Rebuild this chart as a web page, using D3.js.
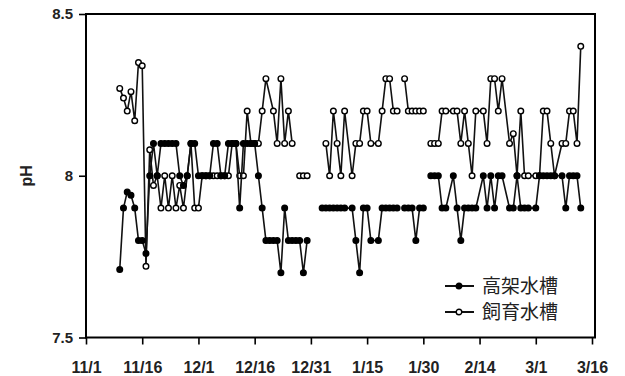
<!DOCTYPE html>
<html>
<head>
<meta charset="utf-8">
<script src="https://cdn.jsdelivr.net/npm/d3@7"></script>
<style>
  body { margin: 0; background: #fff; }
  svg { display: block; font-family: "Liberation Sans", Arial, sans-serif; }
</style>
</head>
<body>
<svg id="chart" width="625" height="376"></svg>
<script>
// x tick labels (every 15 days)
const tickLabels = ["11/1", "11/16", "12/1", "12/16", "12/31", "1/15", "1/30", "2/14", "3/1", "3/16"];
const yTicks = [7.5, 8, 8.5];

// 高架水槽 (filled markers) -- null breaks the line
const tankDates = ["11/10","11/11","11/12","11/13","11/14","11/15","11/16","11/17","11/18","11/19",
  "11/20","11/21","11/22","11/23","11/24","11/25","11/26","11/27","11/28","11/29","11/30",
  "12/1","12/2","12/3","12/4","12/5","12/6","12/7","12/8","12/9","12/10","12/11","12/12","12/13",
  "12/14","12/15","12/16","12/17","12/18","12/19","12/20","12/21","12/22","12/23","12/24","12/25",
  "12/26","12/27","12/28","12/29","12/30","12/31",
  "1/3","1/4","1/5","1/6","1/7","1/8","1/9","1/11","1/12","1/13","1/14","1/15","1/16","1/18",
  "1/19","1/20","1/21","1/22","1/23","1/24","1/25","1/26","1/27","1/28","1/29","1/30","1/31",
  "2/1","2/2","2/3","2/4","2/5","2/7","2/8","2/9","2/10","2/11","2/12","2/13","2/15","2/16",
  "2/17","2/18","2/19","2/20","2/22","2/23","2/24","2/25","2/26","2/27",
  "3/1","3/2","3/3","3/4","3/5","3/6","3/8","3/9","3/10","3/11","3/12","3/13"];
const tankValues = [7.71,7.90,7.95,7.94,7.90,7.80,7.80,7.76,8.00,8.10,
  8.00,8.10,8.10,8.10,8.10,8.10,8.00,7.97,8.00,8.10,8.10,
  8.00,8.00,8.00,8.00,8.10,8.10,8.00,8.00,8.10,8.10,8.10,7.90,8.10,
  8.10,8.10,8.10,8.00,7.90,7.80,7.80,7.80,7.80,7.70,7.90,7.80,
  7.80,7.80,7.80,7.70,7.80,null,
  7.90,7.90,7.90,7.90,7.90,7.90,7.90,7.90,7.80,7.70,7.90,7.90,7.80,7.80,
  7.90,7.90,7.90,7.90,7.90,null,7.90,7.90,7.90,7.80,7.90,7.90,null,
  8.00,8.00,8.00,7.90,7.90,8.00,7.90,7.80,7.90,7.90,7.90,7.90,8.00,7.90,
  8.00,7.90,8.00,8.00,7.90,7.90,8.00,7.90,7.90,7.90,
  7.90,8.00,8.00,8.00,8.00,8.00,8.00,7.90,8.00,8.00,8.00,7.90];

// 飼育水槽 (open markers)
const rearingDates = ["11/10","11/11","11/12","11/13","11/14","11/15","11/16","11/17","11/18","11/19",
  "11/20","11/21","11/22","11/23","11/24","11/25","11/26","11/27","11/28","11/29","11/30",
  "12/1","12/2","12/3","12/4","12/5","12/6","12/7","12/8","12/9","12/10","12/11","12/12","12/13",
  "12/14","12/15","12/16","12/17","12/18","12/19","12/21","12/22","12/23","12/24","12/25","12/26",
  "12/27","12/28","12/29","12/30","12/31",
  "1/4","1/5","1/6","1/7","1/8","1/9","1/11","1/12","1/13","1/14","1/15","1/16","1/18",
  "1/19","1/20","1/21","1/22","1/23","1/24","1/25","1/26","1/27","1/28","1/29","1/30","1/31",
  "2/1","2/2","2/3","2/4","2/5","2/7","2/8","2/9","2/10","2/11","2/12","2/13","2/15","2/16",
  "2/17","2/18","2/19","2/20","2/22","2/23","2/24","2/25","2/26","2/27",
  "3/1","3/2","3/3","3/4","3/5","3/6","3/8","3/9","3/10","3/11","3/12","3/13"];
const rearingValues = [8.27,8.24,8.20,8.26,8.17,8.35,8.34,7.72,8.08,7.97,
  8.00,7.90,8.00,7.90,8.00,7.90,7.97,7.90,8.00,8.10,7.90,
  7.90,8.00,8.00,8.00,8.00,8.00,8.00,8.00,8.00,8.10,8.10,8.00,8.00,
  8.20,8.10,8.10,8.10,8.20,8.30,8.20,8.10,8.30,8.10,8.20,8.10,
  null,8.00,8.00,8.00,null,
  8.10,8.00,8.20,8.10,8.00,8.20,8.00,8.10,8.10,8.20,8.20,8.10,8.10,
  8.20,8.30,8.30,8.20,8.20,null,8.30,8.20,8.20,8.20,8.20,8.20,null,
  8.10,8.10,8.10,8.20,8.20,8.20,8.20,8.10,8.20,8.10,8.00,8.20,8.20,8.10,
  8.30,8.30,8.20,8.30,8.10,8.13,8.00,8.20,8.00,8.00,
  8.00,8.00,8.20,8.20,8.10,8.00,8.10,8.10,8.20,8.20,8.10,8.40];

// month/day -> Date (season starting in November)
function parseMD(s) {
  const [m, d] = s.split("/").map(Number);
  return new Date(m >= 11 ? 2010 : 2011, m - 1, d);
}

const svg = d3.select("#chart");
const plotLeft = 86, plotRight = 592, plotTop = 14, plotBottom = 337.5;

const x = d3.scaleTime()
  .domain([parseMD("11/1"), parseMD("3/16")])
  .range([plotLeft, plotRight]);
const y = d3.scaleLinear().domain([7.5, 8.5]).range([plotBottom, plotTop]);

// frame
svg.append("rect")
  .attr("x", plotLeft).attr("y", plotTop)
  .attr("width", plotRight + 3 - plotLeft).attr("height", plotBottom - plotTop)
  .attr("fill", "none").attr("stroke", "#000").attr("stroke-width", 2);

// y axis
const yAxis = svg.append("g")
  .attr("transform", `translate(${plotLeft},0)`)
  .call(d3.axisLeft(y).tickValues(yTicks).tickSize(7).tickPadding(6).tickFormat(d3.format("")));
yAxis.select(".domain").remove();
yAxis.selectAll("line").attr("stroke-width", 1.6);
yAxis.selectAll("text").attr("font-size", 15).attr("font-weight", "bold").attr("fill", "#222");

// x axis
const xAxis = svg.append("g")
  .attr("transform", `translate(0,${plotBottom})`)
  .call(d3.axisBottom(x).tickValues(tickLabels.map(parseMD)).tickSize(7).tickPadding(17)
    .tickFormat((d, i) => tickLabels[i]));
xAxis.select(".domain").remove();
xAxis.selectAll("line").attr("stroke-width", 1.6);
xAxis.selectAll("text").attr("font-size", 16).attr("font-weight", "bold").attr("fill", "#222");

svg.append("text")
  .attr("transform", `translate(32,${y(8)}) rotate(-90)`)
  .attr("text-anchor", "middle")
  .attr("font-size", 16).attr("font-weight", "bold").attr("fill", "#222")
  .text("pH");

function drawSeries(dates, values, filled) {
  const pts = dates.map((d, i) => ({ date: parseMD(d), v: values[i] }));
  const line = d3.line()
    .defined(p => p.v !== null)
    .x(p => x(p.date)).y(p => y(p.v));
  svg.append("path").datum(pts)
    .attr("d", line).attr("fill", "none")
    .attr("stroke", "#111").attr("stroke-width", 1.6);
  svg.append("g").selectAll("circle")
    .data(pts.filter(p => p.v !== null))
    .join("circle")
      .attr("cx", p => x(p.date)).attr("cy", p => y(p.v))
      .attr("r", 2.8)
      .attr("fill", filled ? "#000" : "#fff")
      .attr("stroke", "#000").attr("stroke-width", 1.4);
}

drawSeries(rearingDates, rearingValues, false);
drawSeries(tankDates, tankValues, true);

// legend
const legend = [
  { label: "高架水槽", filled: true, yy: 286 },
  { label: "飼育水槽", filled: false, yy: 312 }
];
const lg = svg.append("g").selectAll("g").data(legend).join("g")
  .attr("transform", d => `translate(0,${d.yy})`);
lg.append("line").attr("x1", 445).attr("x2", 474)
  .attr("stroke", "#111").attr("stroke-width", 2);
lg.append("circle").attr("cx", 459).attr("r", 2.8)
  .attr("fill", d => d.filled ? "#000" : "#fff")
  .attr("stroke", "#000").attr("stroke-width", 1.4);
lg.append("text").attr("x", 482).attr("dy", "0.35em")
  .attr("font-family", "'Noto Sans CJK JP', sans-serif")
  .attr("font-size", 19).attr("fill", "#222")
  .text(d => d.label);
</script>
</body>
</html>
